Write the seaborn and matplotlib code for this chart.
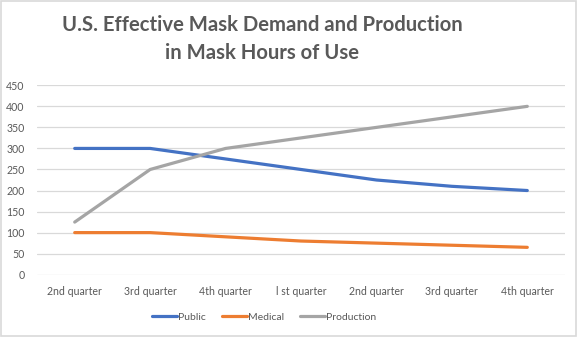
import matplotlib
matplotlib.use("Agg")
import matplotlib.pyplot as plt
import seaborn as sns
import pandas as pd
from matplotlib.patches import Rectangle
from matplotlib.lines import Line2D

quarters = ["2nd quarter", "3rd quarter", "4th quarter", "l st quarter",
            "2nd quarter", "3rd quarter", "4th quarter"]
public = [300, 300, 275, 250, 225, 210, 200]
medical = [100, 100, 90, 80, 75, 70, 65]
production = [125, 250, 300, 325, 350, 375, 400]
series_names = ["Public", "Medical", "Production"]
colors = ["#4472C4", "#ED7D31", "#A5A5A5"]
yticks = [0, 50, 100, 150, 200, 250, 300, 350, 400, 450]

sns.set_theme(style="white")
plt.rcParams['font.family'] = ['Lato', 'DejaVu Sans']

rows = []
for name, vals in zip(series_names, [public, medical, production]):
    for i, v in enumerate(vals):
        rows.append({"pos": i, "value": v, "series": name})
df = pd.DataFrame(rows)

fig = plt.figure(figsize=(5.77, 3.37), dpi=100)
ax = fig.add_axes([37/577, 1-274.7/337, (565-37)/577, (274.7-85.3)/337])

sns.lineplot(data=df, x="pos", y="value", hue="series", palette=colors,
             hue_order=series_names, linewidth=2.3, ax=ax, legend=False,
             solid_joinstyle="round", solid_capstyle="round")

ax.set_xlim(-0.5, 6.5)
ax.set_ylim(0, 450)
ax.set_yticks(yticks)
ax.set_xticks(range(len(quarters)))
ax.set_xticklabels(quarters)
ax.yaxis.grid(True, color="#D9D9D9", linewidth=0.9)
ax.xaxis.grid(False)
for s in ax.spines.values():
    s.set_visible(False)
ax.tick_params(axis="both", length=0, labelsize=7.6, colors="#595959")
ax.tick_params(axis="y", pad=9)
ax.tick_params(axis="x", pad=8)
ax.set_xlabel("")
ax.set_ylabel("")

fig.text(262/577, 1-25/337, "U.S. Effective Mask Demand and Production",
         ha="center", va="center", fontsize=14.6, fontweight="bold", color="#595959")
fig.text(262/577, 1-53/337, "in Mask Hours of Use",
         ha="center", va="center", fontsize=14.6, fontweight="bold", color="#595959")

handles = [Line2D([0], [0], color=c, lw=2.3) for c in colors]
fig.legend(handles, series_names, loc="center", bbox_to_anchor=(264/577, 1-317/337),
           ncol=3, frameon=False, fontsize=7.5, labelcolor="#595959",
           handlelength=2.4, handletextpad=0.1, columnspacing=1.5)

fig.patches.append(Rectangle((0.002, 0.003), 0.996, 0.994, transform=fig.transFigure,
                             fill=False, edgecolor="#D9D9D9", linewidth=1.2))

fig.savefig("out.png", dpi=100, facecolor="white")
